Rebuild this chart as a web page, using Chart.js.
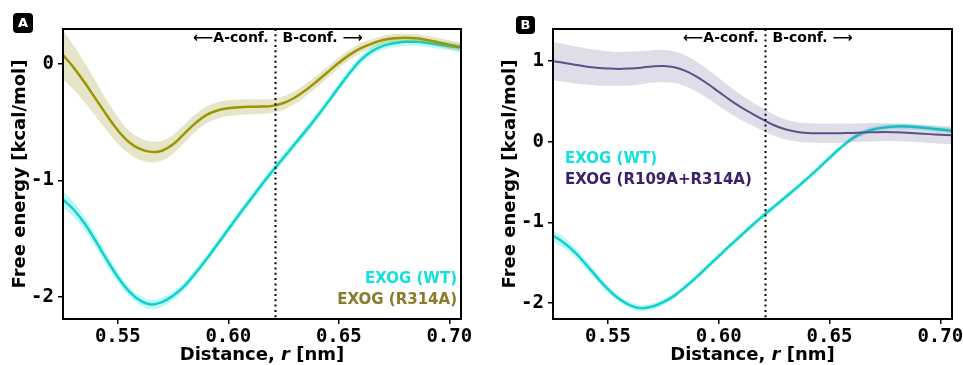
<!DOCTYPE html>
<html>
<head>
<meta charset="utf-8">
<script src="https://cdn.jsdelivr.net/npm/chart.js@4.4.0/dist/chart.umd.min.js"></script>
<style>
  html, body { margin: 0; padding: 0; background: #fff; overflow: hidden; }
  #wrap { position: relative; width: 963px; height: 365px; overflow: hidden; }
  .panel { position: absolute; top: 0; }
  #panelA { left: 0; }
  #panelB { left: 480px; }
</style>
</head>
<body>
<div id="wrap">
  <div class="panel" id="panelA"><canvas id="chartA" width="480" height="365"></canvas></div>
  <div class="panel" id="panelB"><canvas id="chartB" width="500" height="365"></canvas></div>
</div>
<script>
// --- data ---
const distance = [0.525, 0.530, 0.535, 0.540, 0.545, 0.550, 0.555, 0.560, 0.565, 0.570,
                  0.575, 0.580, 0.585, 0.590, 0.595, 0.600, 0.605, 0.610, 0.615, 0.620,
                  0.625, 0.630, 0.635, 0.640, 0.645, 0.650, 0.655, 0.660, 0.665, 0.670,
                  0.675, 0.680, 0.685, 0.690, 0.695, 0.700, 0.705];

const wtEnergy = [-1.16, -1.25, -1.37, -1.52, -1.68, -1.83, -1.95, -2.03, -2.065, -2.045,
                  -1.99, -1.91, -1.80, -1.68, -1.55, -1.42, -1.29, -1.165, -1.04, -0.92,
                  -0.805, -0.69, -0.575, -0.455, -0.33, -0.20, -0.075, 0.035, 0.11, 0.155,
                  0.178, 0.19, 0.19, 0.18, 0.167, 0.152, 0.138];
const wtErr = [0.07, 0.065, 0.06, 0.055, 0.05, 0.045, 0.04, 0.04, 0.04, 0.04,
               0.035, 0.035, 0.035, 0.035, 0.035, 0.035, 0.035, 0.035, 0.035, 0.035,
               0.035, 0.035, 0.035, 0.035, 0.035, 0.035, 0.035, 0.035, 0.035, 0.035,
               0.035, 0.035, 0.035, 0.035, 0.035, 0.035, 0.035];

const r314aEnergy = [0.08, -0.03, -0.16, -0.30, -0.44, -0.57, -0.67, -0.73, -0.755, -0.745,
                     -0.69, -0.60, -0.51, -0.44, -0.40, -0.38, -0.372, -0.368, -0.366, -0.36,
                     -0.335, -0.29, -0.225, -0.15, -0.07, 0.01, 0.08, 0.135, 0.175, 0.205,
                     0.22, 0.225, 0.22, 0.205, 0.185, 0.165, 0.145];
const r314aErr = [0.21, 0.19, 0.17, 0.15, 0.13, 0.115, 0.10, 0.095, 0.09, 0.085,
                  0.08, 0.078, 0.075, 0.072, 0.07, 0.068, 0.066, 0.064, 0.062, 0.06,
                  0.058, 0.055, 0.052, 0.05, 0.048, 0.046, 0.044, 0.042, 0.04, 0.038,
                  0.036, 0.035, 0.035, 0.036, 0.037, 0.038, 0.04];

const doubleEnergy = [1.00, 0.98, 0.955, 0.935, 0.92, 0.91, 0.905, 0.91, 0.92, 0.935,
                      0.94, 0.925, 0.88, 0.81, 0.72, 0.62, 0.52, 0.43, 0.35, 0.275,
                      0.205, 0.155, 0.125, 0.11, 0.105, 0.105, 0.107, 0.11, 0.115, 0.118,
                      0.12, 0.117, 0.112, 0.104, 0.095, 0.087, 0.08];
const doubleErr = [0.24, 0.235, 0.23, 0.225, 0.22, 0.215, 0.21, 0.21, 0.205, 0.2,
                   0.2, 0.195, 0.19, 0.185, 0.18, 0.175, 0.165, 0.155, 0.145, 0.14,
                   0.13, 0.125, 0.12, 0.12, 0.12, 0.12, 0.12, 0.115, 0.115, 0.115,
                   0.11, 0.11, 0.11, 0.11, 0.11, 0.11, 0.11];

const xTicks = [0.55, 0.60, 0.65, 0.70];
const yTicksA = [-2, -1, 0];
const yTicksB = [-2, -1, 0, 1];
const boundary = 0.621;

// --- helpers ---
const pts = (ys) => distance.map((x, i) => ({ x: x, y: ys[i] }));
const shift = (ys, err, sign) => ys.map((v, i) => v + sign * err[i]);

function bandAndLine(label, ys, err, lineColor, bandColor, lineWidth, orderBase) {
    return [
        { label: label + ' upper', data: pts(shift(ys, err, 1)), borderWidth: 0, pointRadius: 0,
          fill: '+1', backgroundColor: bandColor, tension: 0.4, order: orderBase + 1 },
        { label: label + ' lower', data: pts(shift(ys, err, -1)), borderWidth: 0, pointRadius: 0,
          fill: false, tension: 0.4, order: orderBase + 1 },
        { label: label, data: pts(ys), borderColor: lineColor, borderWidth: lineWidth, pointRadius: 0,
          fill: false, tension: 0.4, order: orderBase }
    ];
}

const tickFont = { family: '"DejaVu Sans Mono"', weight: 'bold', size: 19 };

// рамка, пунктир, подписи, легенда
const decorPlugin = {
    id: 'decor',
    afterDatasetsDraw(chart, args, opts) {
        const { ctx, chartArea: area, scales: { x } } = chart;
        ctx.save();

        const bx = Math.round(x.getPixelForValue(boundary)) + 0.5;
        ctx.strokeStyle = '#000';
        ctx.lineWidth = 2;
        ctx.setLineDash([2, 3.3]);
        ctx.beginPath();
        ctx.moveTo(bx, area.top);
        ctx.lineTo(bx, area.bottom);
        ctx.stroke();
        ctx.setLineDash([]);

        ctx.lineWidth = 2;
        ctx.strokeRect(area.left, area.top, area.right - area.left, area.bottom - area.top);

        ctx.fillStyle = '#000';
        ctx.font = 'bold 14px "DejaVu Sans"';
        ctx.textBaseline = 'middle';
        ctx.textAlign = 'right';
        ctx.fillText('⟵A-conf.', bx - 7, 38);
        ctx.textAlign = 'left';
        ctx.fillText('B-conf. ⟶', bx + 7, 38);

        // legend
        ctx.font = 'bold 15px "DejaVu Sans"';
        ctx.textAlign = opts.legendAlign;
        opts.legend.forEach((item, i) => {
            ctx.fillStyle = item.color;
            ctx.fillText(item.text, opts.legendX, opts.legendY + i * 21);
        });

        // x title with italic r
        const partA = 'Distance, ', partR = 'r', partC = ' [nm]';
        const fB = 'bold 18px "DejaVu Sans"', fI = 'italic bold 18px "DejaVu Sans"';
        ctx.font = fB;
        const wA = ctx.measureText(partA).width, wC = ctx.measureText(partC).width;
        ctx.font = fI;
        const wR = ctx.measureText(partR).width;
        let tx = (area.left + area.right) / 2 - (wA + wR + wC) / 2;
        ctx.textAlign = 'left';
        ctx.textBaseline = 'alphabetic';
        ctx.fillStyle = '#000';
        ctx.font = fB; ctx.fillText(partA, tx, 360); tx += wA;
        ctx.font = fI; ctx.fillText(partR, tx, 360); tx += wR;
        ctx.font = fB; ctx.fillText(partC, tx, 360);

        // panel letter
        const b = opts.box;
        ctx.fillStyle = '#000';
        ctx.beginPath();
        ctx.roundRect(b.x, b.y, b.w, b.h, 4);
        ctx.fill();
        ctx.fillStyle = '#fff';
        ctx.font = 'bold 13px "DejaVu Sans"';
        ctx.textAlign = 'center';
        ctx.textBaseline = 'middle';
        ctx.fillText(opts.letter, b.x + b.w / 2, b.y + b.h / 2 + 1);

        ctx.restore();
    }
};

function makeChart(canvasId, datasets, yMin, yMax, yTicks, yWidth, titlePad, padRight, decor) {
    return new Chart(document.getElementById(canvasId), {
        type: 'line',
        data: { datasets: datasets },
        options: {
            responsive: false,
            animation: false,
            layout: { padding: { left: 0, right: padRight, top: 29, bottom: 0 } },
            plugins: { legend: { display: false }, tooltip: { enabled: false }, decor: decor },
            scales: {
                x: {
                    type: 'linear', min: 0.5252, max: 0.7053,
                    afterBuildTicks: (s) => { s.ticks = xTicks.map(v => ({ value: v })); },
                    afterFit: (s) => { s.height = 46; },
                    ticks: { font: tickFont, color: '#000', padding: 2, maxRotation: 0,
                             callback: (v) => v.toFixed(2) },
                    grid: { drawOnChartArea: false, drawTicks: true, tickLength: 5, color: '#000', lineWidth: 1.5 },
                    border: { display: false }
                },
                y: {
                    type: 'linear', min: yMin, max: yMax,
                    afterBuildTicks: (s) => { s.ticks = yTicks.map(v => ({ value: v })); },
                    afterFit: (s) => { s.width = yWidth; },
                    ticks: { font: tickFont, color: '#000', padding: 4, callback: (v) => String(v) },
                    grid: { drawOnChartArea: false, drawTicks: true, tickLength: 5, color: '#000', lineWidth: 1.5 },
                    border: { display: false },
                    title: { display: true, text: 'Free energy [kcal/mol]', color: '#000',
                             font: { family: '"DejaVu Sans"', weight: 'bold', size: 18 },
                             padding: { top: titlePad, bottom: 0 } }
                }
            }
        },
        plugins: [decorPlugin]
    });
}

const wtLine = '#0fd2cc', wtBand = 'rgba(20, 225, 225, 0.28)';

makeChart('chartA',
    [
        ...bandAndLine('EXOG (R314A)', r314aEnergy, r314aErr, '#9a9500', 'rgba(160, 150, 40, 0.25)', 2.5, 0),
        ...bandAndLine('EXOG (WT)', wtEnergy, wtErr, wtLine, wtBand, 2.5, 2)
    ],
    -2.19, 0.30, yTicksA, 63, 10, 19,
    { letter: 'A', box: { x: 13, y: 13, w: 20, h: 20 }, legendAlign: 'right', legendX: 457, legendY: 279,
      legend: [{ text: 'EXOG (WT)', color: '#14e0e0' }, { text: 'EXOG (R314A)', color: '#8a7a2c' }] }
);

makeChart('chartB',
    [
        ...bandAndLine('EXOG (R109A+R314A)', doubleEnergy, doubleErr, '#5b5087', 'rgba(95, 85, 140, 0.2)', 2, 0),
        ...bandAndLine('EXOG (WT)', wtEnergy, wtErr, wtLine, wtBand, 2.5, 2)
    ],
    -2.2, 1.40, yTicksB, 73, 20, 28,
    { letter: 'B', box: { x: 36, y: 16, w: 19, h: 18 }, legendAlign: 'left', legendX: 85, legendY: 159,
      legend: [{ text: 'EXOG (WT)', color: '#14e0e0' }, { text: 'EXOG (R109A+R314A)', color: '#3b2268' }] }
);
</script>
</body>
</html>
